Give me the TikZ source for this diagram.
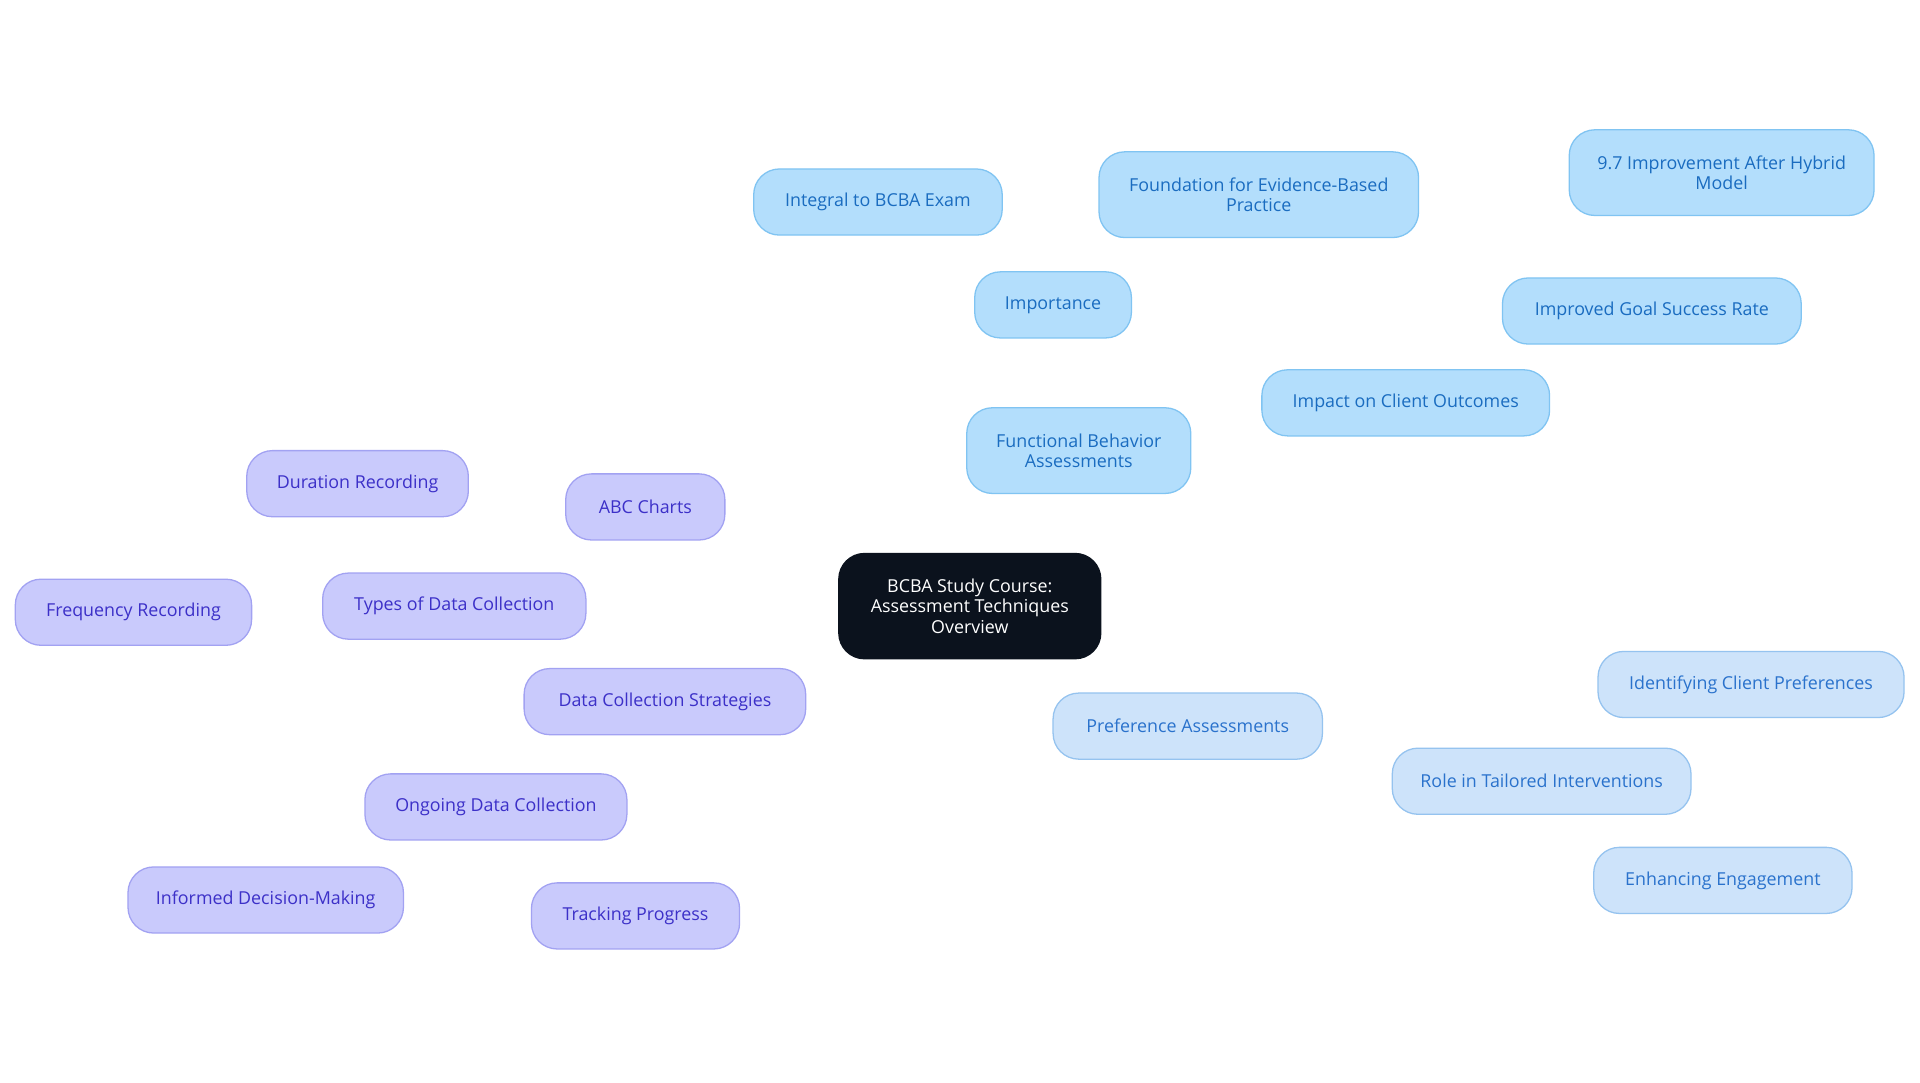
\documentclass[tikz,border=0pt]{standalone}
\usepackage{fontspec}
\setmainfont{Open Sans}
\usetikzlibrary{backgrounds}
\definecolor{bfill}{HTML}{B3DEFC}\definecolor{bdraw}{HTML}{80C4F2}\definecolor{btext}{HTML}{1A6CC0}
\definecolor{lfill}{HTML}{CDE3FA}\definecolor{ldraw}{HTML}{95C3EF}\definecolor{ltext}{HTML}{2A72CC}
\definecolor{pfill}{HTML}{C9CAFC}\definecolor{pdraw}{HTML}{A2A2F2}\definecolor{ptext}{HTML}{3C30C8}
\definecolor{cfill}{HTML}{0B121D}
\begin{document}
\begin{tikzpicture}[x=0.02cm,y=-0.02cm,
 box/.style={rounded corners=0.42cm,line width=0.6pt,align=center,font=\fontsize{8.3pt}{9.5pt}\selectfont,inner sep=0pt,minimum height=1.08cm},
 bnode/.style={box,fill=bfill,draw=bdraw,text=btext},
 lnode/.style={box,fill=lfill,draw=ldraw,text=ltext},
 pnode/.style={box,fill=pfill,draw=pdraw,text=ptext},
 bl/.style={draw=bdraw,line width=1.2pt},
 ll/.style={draw=ldraw,line width=1.2pt},
 pl/.style={draw=pdraw,line width=1.2pt}]
\useasboundingbox[fill=white] (0,0) rectangle (1568,884);
\node[box,fill=cfill,draw=cfill,text=white,minimum width=4.28cm,minimum height=1.72cm] (c) at (792,495) {BCBA Study Course:\\Assessment Techniques\\Overview};
\node[bnode,minimum width=3.66cm,minimum height=1.4cm] (fba) at (881,368) {Functional Behavior\\Assessments};
\node[bnode,minimum width=2.56cm] (imp) at (860,249) {Importance};
\node[bnode,minimum width=4.06cm] (int) at (717,165) {Integral to BCBA Exam};
\node[bnode,minimum width=5.22cm,minimum height=1.4cm] (fnd) at (1028,159) {Foundation for Evidence-Based\\Practice};
\node[bnode,minimum width=4.7cm] (ico) at (1148,329) {Impact on Client Outcomes};
\node[bnode,minimum width=4.88cm] (igs) at (1349,254) {Improved Goal Success Rate};
\node[bnode,minimum width=4.98cm,minimum height=1.4cm] (n97) at (1406,141) {9.7 Improvement After Hybrid\\Model};
\node[lnode,minimum width=4.4cm] (pa) at (970,593) {Preference Assessments};
\node[lnode,minimum width=4.88cm] (rti) at (1259,638) {Role in Tailored Interventions};
\node[lnode,minimum width=5cm] (icp) at (1430,559) {Identifying Client Preferences};
\node[lnode,minimum width=4.22cm] (ee) at (1407,719) {Enhancing Engagement};
\node[pnode,minimum width=4.6cm] (dcs) at (543,573) {Data Collection Strategies};
\node[pnode,minimum width=4.3cm] (tdc) at (371,495) {Types of Data Collection};
\node[pnode,minimum width=3.62cm] (dr) at (292,395) {Duration Recording};
\node[pnode,minimum width=2.6cm] (abc) at (527,414) {ABC Charts};
\node[pnode,minimum width=3.86cm] (fr) at (109,500) {Frequency Recording};
\node[pnode,minimum width=4.28cm] (odc) at (405,659) {Ongoing Data Collection};
\node[pnode,minimum width=4.5cm] (idm) at (217,735) {Informed Decision-Making};
\node[pnode,minimum width=3.4cm] (tp) at (519,748) {Tracking Progress};
\begin{scope}[on background layer]
\draw[bl] (c)--(fba); \draw[bl] (fba)--(imp); \draw[bl] (imp)--(int); \draw[bl] (imp)--(fnd);
\draw[bl] (fba)--(ico); \draw[bl] (ico)--(igs); \draw[bl] (igs)--(n97);
\draw[ll] (c)--(pa); \draw[ll] (pa)--(rti); \draw[ll] (rti)--(icp); \draw[ll] (rti)--(ee);
\draw[pl] (c)--(dcs); \draw[pl] (dcs)--(tdc); \draw[pl] (tdc)--(dr); \draw[pl] (tdc)--(abc); \draw[pl] (tdc)--(fr);
\draw[pl] (dcs)--(odc); \draw[pl] (odc)--(idm); \draw[pl] (odc)--(tp);
\end{scope}
\end{tikzpicture}
\end{document}
